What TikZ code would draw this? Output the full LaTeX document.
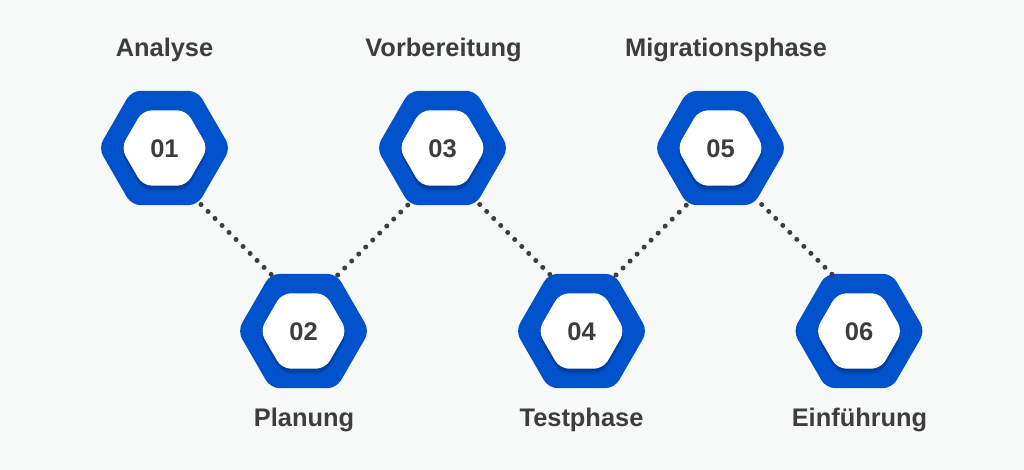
\documentclass[tikz,border=0pt]{standalone}
\usepackage{fontspec}
\setmainfont{Liberation Sans}
\usetikzlibrary{shapes.geometric,calc}
\definecolor{bgc}{HTML}{F7F9F9}
\definecolor{hexblue}{HTML}{0052CC}
\definecolor{ink}{HTML}{3D3D3D}
\tikzset{
  outerhex/.style={regular polygon,regular polygon sides=6,minimum size=132pt,inner sep=0pt,outer sep=0pt,fill=hexblue,draw=none,rounded corners=9pt},
  innerhex/.style={regular polygon,regular polygon sides=6,minimum size=87pt,inner sep=0pt,outer sep=0pt,fill=white,draw=none,rounded corners=9pt},
  shadowhex/.style={regular polygon,regular polygon sides=6,minimum size=#1,inner sep=0pt,outer sep=0pt,fill=black,fill opacity=0.045,draw=none,rounded corners=9pt},
  numtext/.style={font=\fontsize{25.5}{28}\selectfont\bfseries,text=ink,inner sep=0pt},
  steplabel/.style={font=\fontsize{25.4}{28}\selectfont\bfseries,text=ink,inner sep=0pt,anchor=base},
  dotline/.style={draw=ink,line width=5pt,line cap=round,dash pattern=on 0pt off 9.9pt},
}
\newcommand{\hexstep}[4]{%
  \node[outerhex] (h#1) at (#2,#3) {};
  \foreach \dy/\ds in {6/86pt,5/87pt,4/88pt,3/88pt,2/88pt,1/88pt}{\node[shadowhex=\ds] at (#2,#3+\dy) {};}
  \node[innerhex] (i#1) at (#2,#3) {};
  \node[numtext] (n#1) at (#2,#3+0.8) {#4};
}
\begin{document}
\begin{tikzpicture}[x=1pt,y=-1pt]
\useasboundingbox (0,0) rectangle (1024,470);
\fill[bgc] (0,0) rectangle (1024,470);
\hexstep{1}{164.5}{148}{01}
\hexstep{2}{303.5}{331}{02}
\hexstep{3}{442.5}{148}{03}
\hexstep{4}{581.5}{331}{04}
\hexstep{5}{720.5}{148}{05}
\hexstep{6}{859}{331}{06}
\node[steplabel] (l1) at (164.5,56.5) {Analyse};
\node[steplabel] (l3) at (443.5,56.5) {Vorbereitung};
\node[steplabel] (l5) at (726,56.5) {Migrationsphase};
\node[steplabel] (l2) at (304,426.5) {Planung};
\node[steplabel] (l4) at (581.5,426.5) {Testphase};
\node[steplabel] (l6) at (859.5,426.5) {Einführung};
\draw[dotline] ($(h1)+(36.5,56.5)$) -- ($(h2)+(-31.8,-56)$);
\draw[dotline] ($(h2)+(34.2,-56)$) -- ($(h3)+(-34.2,56.5)$);
\draw[dotline] ($(h3)+(37.2,56.5)$) -- ($(h4)+(-31.2,-56)$);
\draw[dotline] ($(h4)+(34.5,-56)$) -- ($(h5)+(-33.5,56.5)$);
\draw[dotline] ($(h5)+(41.2,56.5)$) -- ($(h6)+(-26.3,-56)$);
\end{tikzpicture}
\end{document}
